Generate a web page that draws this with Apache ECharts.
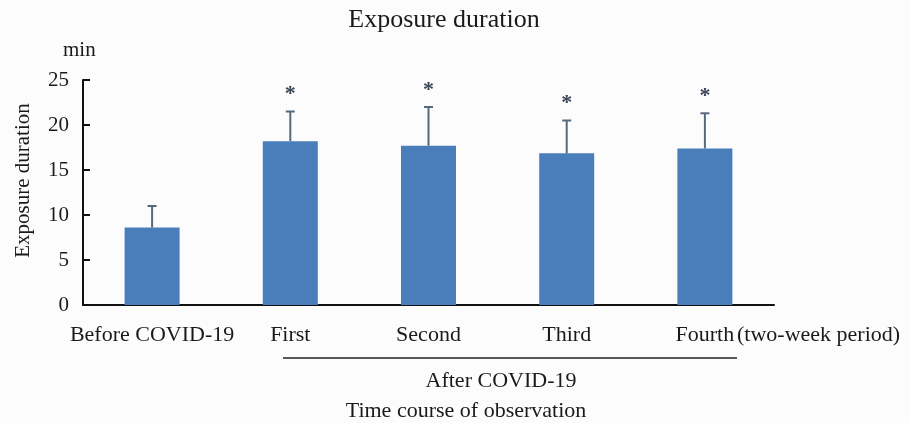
<!DOCTYPE html>
<html><head><meta charset="utf-8">
<script src="https://cdn.jsdelivr.net/npm/echarts@6/dist/echarts.min.js"></script>
<style>html,body{margin:0;padding:0;background:#fcfcfd}#c{width:909px;height:423px}</style>
</head><body><div id="c"></div>
<script>
const categories = ['Before COVID-19', 'First', 'Second', 'Third', 'Fourth'];
const means = [8.6, 18.2, 17.7, 16.85, 17.4];
const sds = [2.4, 3.3, 4.3, 3.65, 3.9];
const marks = ['', '*', '*', '*', '*'];
const yTicks = { min: 0, max: 25, interval: 5 };

const FONT = '"Liberation Serif", "DejaVu Serif", serif';
const chart = echarts.init(document.getElementById('c'));
const errData = means.map((m, i) => [i, m, m + sds[i], marks[i]]);

chart.setOption({
  backgroundColor: '#fcfcfd',
  animation: false,
  grid: { left: 83, right: 135, top: 80, bottom: 118 },
  xAxis: {
    type: 'category', data: categories,
    axisLine: { lineStyle: { color: '#111', width: 2 } },
    axisTick: { inside: true, length: 7, interval: 0, lineStyle: { color: '#111', width: 2 } },
    axisLabel: { fontFamily: FONT, fontSize: 22, color: '#1a1a1a', margin: 19, interval: 0 }
  },
  yAxis: {
    type: 'value', min: yTicks.min, max: yTicks.max, interval: yTicks.interval,
    name: 'Exposure duration', nameLocation: 'middle', nameGap: 49, nameRotate: 90,
    nameTextStyle: { fontFamily: FONT, fontSize: 21, color: '#1a1a1a', padding: [0, 0, 0, 24] },
    splitLine: { show: false },
    axisLine: { show: true, lineStyle: { color: '#111', width: 2 } },
    axisTick: { show: true, inside: true, length: 7, lineStyle: { color: '#111', width: 2 } },
    axisLabel: { fontFamily: FONT, fontSize: 21, color: '#1a1a1a', margin: 14 }
  },
  series: [
    {
      type: 'bar', data: means, barWidth: 55,
      itemStyle: { color: '#4a7ebb' }
    },
    {
      type: 'custom', data: errData, z: 5,
      renderItem: function (params, api) {
        const x = api.coord([api.value(0), api.value(1)]);
        const top = api.coord([api.value(0), api.value(2)]);
        const hw = 4.5;
        const style = { stroke: '#55697d', lineWidth: 2 };
        const children = [
          { type: 'line', shape: { x1: x[0], y1: x[1], x2: top[0], y2: top[1] }, style: style },
          { type: 'line', shape: { x1: top[0] - hw, y1: top[1], x2: top[0] + hw, y2: top[1] }, style: style }
        ];
        const m = marks[params.dataIndex];
        if (m) {
          children.push({ type: 'text', style: { text: m, x: top[0], y: top[1] - 17, align: 'center', verticalAlign: 'middle',
            font: 'bold 22px ' + FONT, fill: '#3a4656' } });
        }
        return { type: 'group', children: children };
      }
    }
  ],
  graphic: [
    { type: 'text', x: 444, y: 20, style: { text: 'Exposure duration', font: '26px ' + FONT, fill: '#1a1a1a', align: 'center', verticalAlign: 'middle' } },
    { type: 'text', x: 63, y: 50, style: { text: 'min', font: '21px ' + FONT, fill: '#1a1a1a', align: 'left', verticalAlign: 'middle' } },
    { type: 'text', x: 737, y: 335, style: { text: '(two-week period)', font: '22px ' + FONT, fill: '#1a1a1a', align: 'left', verticalAlign: 'middle' } },
    { type: 'line', shape: { x1: 283, y1: 358, x2: 737, y2: 358 }, style: { stroke: '#222', lineWidth: 1.5 } },
    { type: 'text', x: 501, y: 381, style: { text: 'After COVID-19', font: '22px ' + FONT, fill: '#1a1a1a', align: 'center', verticalAlign: 'middle' } },
    { type: 'text', x: 466, y: 411, style: { text: 'Time course of observation', font: '22px ' + FONT, fill: '#1a1a1a', align: 'center', verticalAlign: 'middle' } }
  ]
});
</script></body></html>
